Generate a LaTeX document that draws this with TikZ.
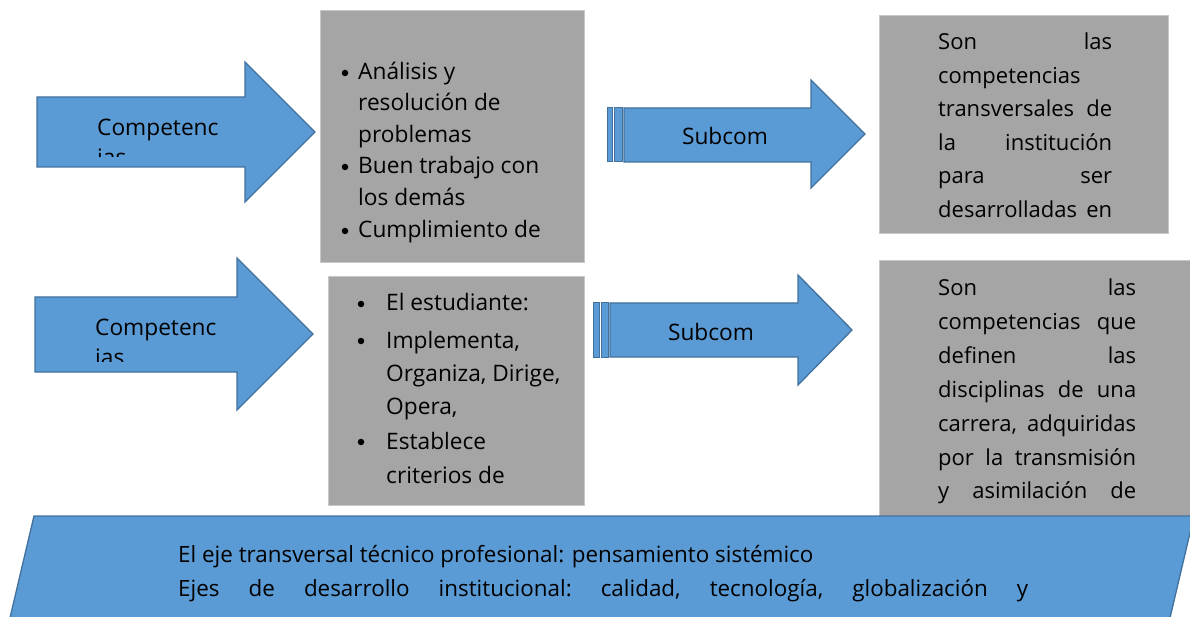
\documentclass[tikz,border=0pt]{standalone}
\usepackage{fontspec}
\setmainfont{Open Sans}
\definecolor{myblue}{HTML}{5B9BD5}
\definecolor{mybluedark}{HTML}{41719C}
\definecolor{mygray}{HTML}{A5A5A5}
\definecolor{mygrayline}{HTML}{C8C8C8}
\tikzset{
  bluearrow/.style={fill=myblue, draw=mybluedark, line width=1.3pt, line join=miter},
  graybox/.style={fill=mygray, draw=mygrayline, line width=0.8pt},
  txt/.style={inner sep=0pt, anchor=base west, font=\fontsize{22.7}{27}\selectfont, text=black},
  rtxt/.style={inner sep=0pt, anchor=base west, font=\fontsize{22}{27}\selectfont, text=black},
  ctxt/.style={inner sep=0pt, anchor=base, font=\fontsize{22.7}{27}\selectfont, text=black},
  bul/.style={circle, fill=black, inner sep=0pt, minimum size=6.5pt},
}
\newcommand{\jline}[2]{\hbox to #1{#2}}
\begin{document}
\begin{tikzpicture}[x=1pt, y=-1pt]
\useasboundingbox (0,0) rectangle (1190,617);
\fill[white] (0,0) rectangle (1190,617);

% ---------- gray boxes ----------
\draw[graybox] (320,10) rectangle (584,262);
\draw[graybox] (328,276) rectangle (584,505);
\draw[graybox] (879,15) rectangle (1168,233);
\draw[graybox] (879,260) rectangle (1192,530);

% ---------- left arrows ----------
\draw[bluearrow] (37,97) -- (245,97) -- (245,62) -- (315,132) -- (245,202) -- (245,167) -- (37,167) -- cycle;
\draw[bluearrow] (35,297) -- (237,297) -- (237,258) -- (313,334) -- (237,410) -- (237,372) -- (35,372) -- cycle;

\node[txt] (c1) at (97,136) {Competenc};
\begin{scope}
  \clip (90,100) rectangle (240,157);
  \node[txt] (c1b) at (97,166) {ias};
\end{scope}
\node[txt] (c2) at (95,335) {Competenc};
\begin{scope}
  \clip (90,300) rectangle (232,361);
  \node[txt] (c2b) at (95,365) {ias};
\end{scope}

% ---------- striped arrows ----------
\draw[bluearrow, line width=1pt] (607,108) rectangle (612,162);
\draw[bluearrow, line width=1pt] (614,108) rectangle (622,162);
\draw[bluearrow] (624,108) -- (811,108) -- (811,80) -- (865,134) -- (811,188) -- (811,162) -- (624,162) -- cycle;
\node[ctxt] (s1) at (725,145) {Subcom};

\draw[bluearrow, line width=1pt] (593,303) rectangle (599,357);
\draw[bluearrow, line width=1pt] (601,303) rectangle (608,357);
\draw[bluearrow] (610,303) -- (798,303) -- (798,275) -- (852,330) -- (798,385) -- (798,357) -- (610,357) -- cycle;
\node[ctxt] (s2) at (711,340) {Subcom};

% ---------- box 1 text ----------
\node[bul] (b11) at (345,73) {};
\node[txt] (t11) at (358,80) {Análisis y};
\node[txt] (t12) at (358,111) {resolución de};
\node[txt] (t13) at (358,143) {problemas};
\node[bul] (b12) at (345,167) {};
\node[txt] (t14) at (358,174) {Buen trabajo con};
\node[txt] (t15) at (358,206) {los demás};
\node[bul] (b13) at (345,231) {};
\node[txt] (t16) at (358,238) {Cumplimiento de};

% ---------- box 2 text ----------
\node[bul] (b21) at (361,304) {};
\node[txt] (t21) at (386,311) {El estudiante:};
\node[bul] (b22) at (361,341) {};
\node[txt] (t22) at (386,348) {Implementa,};
\node[txt] (t23) at (386,381) {Organiza, Dirige,};
\node[txt] (t24) at (386,414) {Opera,};
\node[bul] (b23) at (361,442) {};
\node[txt] (t25) at (386,449) {Establece};
\node[txt] (t26) at (386,483) {criterios de};

% ---------- box 3 text ----------
\node[rtxt] (r11) at (938,50)  {\jline{174pt}{Son\hfill las}};
\node[rtxt] (r12) at (938,84)  {\jline{174pt}{competencias\hfill}};
\node[rtxt] (r13) at (938,117) {\jline{174pt}{transversales\hfill de}};
\node[rtxt] (r14) at (938,151) {\jline{174pt}{la\hfill institución}};
\node[rtxt] (r15) at (938,184) {\jline{174pt}{para\hfill ser}};
\node[rtxt] (r16) at (938,218) {\jline{174pt}{desarrolladas\hfill en}};

% ---------- box 4 text ----------
\node[rtxt] (r21) at (938,295) {\jline{198pt}{Son\hfill las}};
\node[rtxt] (r22) at (938,329) {\jline{198pt}{competencias\hfill que}};
\node[rtxt] (r23) at (938,363) {\jline{198pt}{definen\hfill las}};
\node[rtxt] (r24) at (938,397) {\jline{198pt}{disciplinas\hfill de\hfill una}};
\node[rtxt] (r25) at (938,431) {\jline{198pt}{carrera,\hfill adquiridas}};
\node[rtxt] (r26) at (938,465) {\jline{198pt}{por\hfill la\hfill transmisión}};
\node[rtxt] (r27) at (938,498) {\jline{198pt}{y\hfill asimilación\hfill de}};

% ---------- bottom parallelogram ----------
\draw[bluearrow] (34,516) -- (1194,516) -- (1169,622) -- (9,622) -- cycle;
\node[txt, font=\fontsize{22.4}{27}\selectfont] (p1) at (178,562) {El eje transversal técnico profesional: pensamiento sistémico};
\node[txt, font=\fontsize{22.4}{27}\selectfont] (p2) at (178,596) {\jline{850pt}{Ejes\hfill de\hfill desarrollo\hfill institucional:\hfill calidad,\hfill tecnología,\hfill globalización\hfill y}};
\end{tikzpicture}
\end{document}
